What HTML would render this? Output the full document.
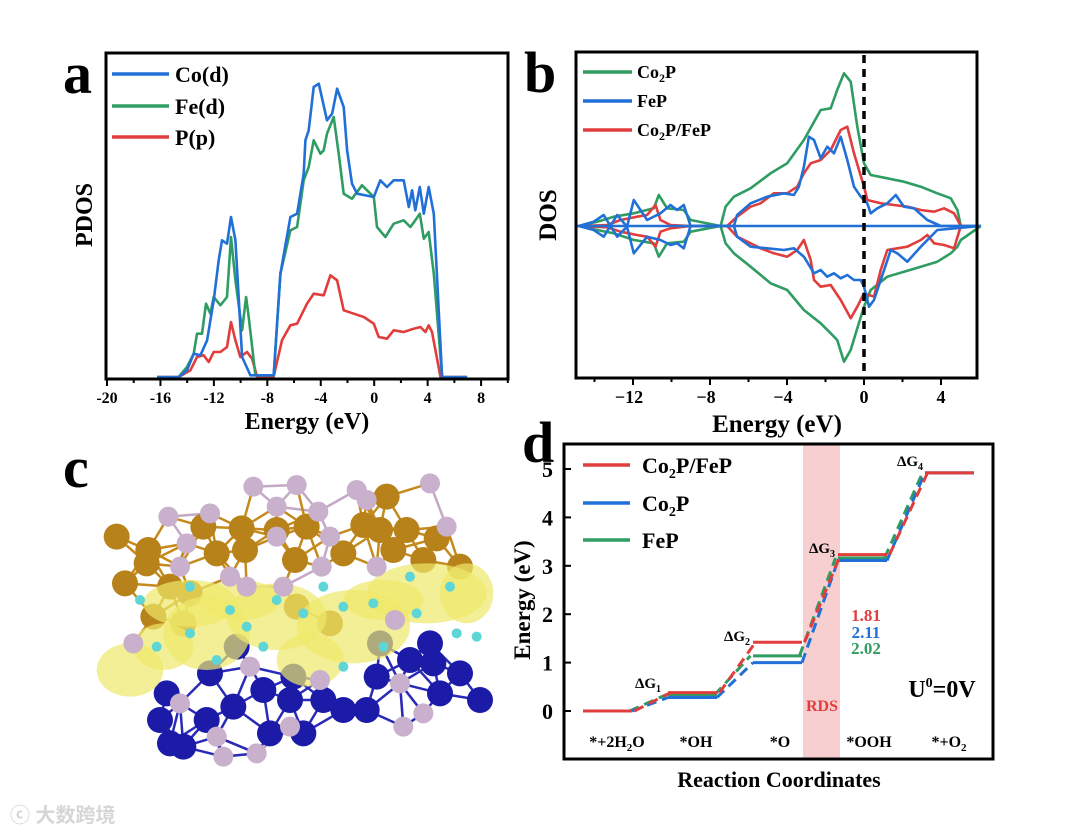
<!DOCTYPE html>
<html><head><meta charset="utf-8">
<style>
html,body{margin:0;padding:0;background:#fff;}
svg{display:block;font-family:"Liberation Serif",serif;font-weight:bold;}
</style></head>
<body>
<svg id="fig" width="1080" height="833" viewBox="0 0 1080 833" xmlns="http://www.w3.org/2000/svg">
<rect width="1080" height="833" fill="#fff"/>
<g id="pa"></g>
<g id="pb"></g>
<g id="pc"></g>
<g id="pd"></g>
<text x="10" y="822" font-family="'Liberation Sans','Noto Sans CJK SC',sans-serif" font-size="20" fill="#d6d6d6">ⓒ 大数跨境</text>
</svg>
<script>
// ---------- Panel a data (PDOS) ----------
const aCoE=[-16.26,-14.63,-14.01,-13.51,-13.01,-12.51,-12.01,-11.64,-11.39,-11.02,-10.72,-10.39,-9.89,-9.27,-7.52,-7.02,-6.27,-5.77,-5.28,-5.15,-4.90,-4.53,-4.15,-3.53,-3.15,-2.78,-2.28,-2.03,-1.66,-1.28,-0.03,0.46,0.96,1.46,2.21,2.59,2.84,3.08,3.41,3.71,4.08,4.46,5.08,6.95];
const aCoV=[0,0,2,7,6.5,11,23,35,41,40,48,41,6,0.5,0.5,31,48,49,61,71,74,87,88,77,79,86.5,81,68,58,55,54,59,57,59,59,51,56,50,57,49,57,49,0,0];
const aFeE=[-14.63,-14.01,-13.51,-13.26,-12.89,-12.59,-12.26,-12.01,-11.51,-11.02,-10.72,-10.39,-9.89,-9.59,-9.39,-8.89,-7.52,-7.02,-6.27,-5.77,-5.28,-4.90,-4.53,-4.03,-3.78,-3.53,-3.03,-2.66,-2.28,-1.66,-0.91,-0.28,-0.03,0.21,0.84,1.46,2.21,2.71,3.08,3.41,3.71,4.08,4.46,5.08];
const aFeV=[0,3,7,13,13,22,19,24,21.5,24,42,29,14,24,18,0.5,0.5,31,44,45,59,63,71,67,68,73,78,67,55,53.5,57.5,55,54,45,42,46,47,45,47,49,41.5,43.5,31,0];
const aPE=[-16.26,-14.63,-13.76,-13.26,-12.76,-12.39,-12.01,-11.51,-11.02,-10.72,-10.39,-10.02,-9.52,-9.14,-8.77,-7.52,-6.90,-6.27,-5.77,-5.03,-4.53,-3.78,-3.28,-2.78,-2.28,-1.53,-0.78,-0.03,0.34,0.96,1.46,2.21,2.96,3.46,3.83,4.08,4.33,4.96,6.95];
const aPV=[0,0,2,6,6.5,4.5,7.5,7.5,9,16.5,11,6,7.5,5.5,0.2,0.2,11,15.5,16,22,25,24.5,30.5,29,20,19,18,16,12,11.5,14,13.5,14.5,15,13.5,15.5,13.5,0,0];
const aTicks=[-20,-16,-12,-8,-4,0,4,8];
// ---------- Panel b data (DOS, spin up / down) ----------
const bGreenE=[-14.82,-13.86,-13.0,-11.96,-10.92,-10.66,-10.23,-9.36,-9.01,-7.45,-7.19,-6.76,-5.89,-4.85,-3.99,-3.12,-2.25,-1.73,-1.39,-1.04,-0.69,-0.35,0,0.35,1.21,2.08,2.95,3.81,4.51,4.85,5.03,6.07];
const bGreenUp=[0,1.3,2.8,3.8,5.3,9.3,5.3,4.8,1.8,0,5.8,8.8,11.3,15.8,18.8,25.8,34.8,35.3,40.8,45.8,43.3,29.8,18.8,15.3,14.3,13.3,11.8,9.8,8.3,4.8,0,0];
const bGreenDn=[0,-1.2,-2.2,-4.2,-5.2,-9.2,-5.2,-4.7,-1.7,0,-5.2,-8.2,-12.2,-17.2,-19.2,-25.2,-29.2,-32.2,-34.2,-40.7,-37.2,-30.7,-24.2,-19.2,-15.2,-13.7,-12.2,-10.7,-8.2,-6.2,-4.2,0];
const bBlueUpE=[-14.82,-14.04,-13.52,-12.82,-12.31,-11.96,-11.27,-10.57,-10.05,-9.71,-9.36,-9.01,-7.45,-6.76,-6.59,-5.89,-5.03,-4.16,-3.64,-3.38,-3.12,-2.86,-2.6,-2.25,-1.91,-1.56,-1.21,-0.87,-0.52,-0.17,0.17,0.35,0.69,1.21,1.65,2.08,2.6,3.29,3.99,6.07];
const bBlueUp=[0,1.3,3.3,-3.2,-0.2,7.8,1.8,3.8,6.3,4.8,6.3,0,0,0,3.3,6.8,8.8,9.8,9.3,11.8,17.8,26.8,25.8,20.3,23.8,21.8,26.8,19.8,11.8,8.8,6.8,3.8,5.3,6.8,9.3,5.8,5.3,1.8,0,0];
const bBlueDnE=[-14.82,-14.04,-13.52,-12.82,-12.31,-11.96,-11.27,-10.57,-10.05,-9.71,-9.36,-9.01,-7.45,-6.76,-6.59,-5.89,-5.03,-4.16,-3.64,-3.12,-2.6,-2.25,-1.91,-1.56,-1.21,-0.87,-0.52,-0.17,0,0.26,0.52,0.87,1.39,1.73,2.25,2.95,3.81,6.07];
const bBlueDn=[0,-1.2,-3.2,3.3,-0.2,-8.2,-3.2,-4.2,-5.7,-5.2,-6.7,0,0,0,-3.2,-6.2,-6.7,-7.2,-6.7,-9.2,-14.2,-13.2,-15.2,-14.2,-15.7,-14.7,-16.2,-16.2,-18.2,-24.2,-22.2,-16.2,-7.2,-8.2,-10.7,-6.2,-1.2,0];
const bRedE=[-14.82,-13.34,-12.65,-11.79,-11.27,-10.83,-10.57,-10.05,-9.01,-7.11,-6.59,-5.89,-5.37,-4.68,-3.99,-3.47,-3.12,-2.77,-2.25,-1.73,-1.21,-0.87,-0.52,0,0.17,0.87,1.56,2.25,2.95,3.64,4.16,4.68,5.03];
const bRedUp=[0,0.3,1.8,2.8,3.3,6.3,1.8,0.3,0,0,2.8,5.8,6.8,9.8,9.8,11.8,15.8,18.8,19.8,22.8,28.8,29.8,21.8,11.8,7.8,6.8,6.3,5.8,4.8,4.3,5.3,3.8,0];
const bRedDnE=[-14.82,-13.34,-12.65,-11.79,-11.27,-10.83,-10.57,-10.05,-9.01,-7.11,-6.59,-5.89,-5.37,-4.68,-3.99,-3.47,-3.12,-2.77,-2.6,-2.25,-1.73,-1.21,-0.69,-0.35,0,0.52,0.87,1.21,2.25,2.95,3.29,3.64,4.16,4.68,5.03];
const bRedDn=[0,-0.4,-1.7,-2.7,-3.2,-6.2,-1.7,-0.7,0,0,-3.2,-5.2,-6.7,-8.2,-9.2,-7.2,-4.2,-10.2,-16.2,-18.2,-17.7,-22.2,-27.7,-24.2,-20.2,-21.2,-13.2,-7.2,-6.2,-4.2,-2.7,-5.2,-5.7,-6.7,0];
const bTicks=[-12,-8,-4,0,4];
// ---------- Panel d data (free energy) ----------
const dSteps=["*+2H2O","*OH","*O","*OOH","*+O2"];
const dCo2PFeP=[0,0.38,1.42,3.23,4.92];
const dCo2P=[0,0.28,1.00,3.11,4.92];
const dFeP=[0,0.33,1.14,3.16,4.92];
const dYTicks=[0,1,2,3,4,5];
const dRDS=["1.81","2.11","2.02"];

const NS="http://www.w3.org/2000/svg";
const C={blue:"#2170d8",green:"#2f9d62",red:"#e23d3d"};
function mk(parent,tag,attrs,txt){const e=document.createElementNS(NS,tag);for(const k in attrs)e.setAttribute(k,attrs[k]);if(txt!==undefined)e.textContent=txt;parent.appendChild(e);return e;}
function pathFrom(xs,ys,fx,fy){return xs.map((x,i)=>(i?"L":"M")+fx(x).toFixed(1)+","+fy(ys[i]).toFixed(1)).join("");}

// ===== Panel a =====
(function(){
const g=document.getElementById('pa');
const X=e=>107+(e+20)*13.36, Y=v=>377-v*10/3;
const L=mk(g,'text',{x:63,y:93,'font-size':58},'a');

const series=[[aPE,aPV,C.red,'p-p-line'],[aFeE,aFeV,C.green,'fe-d-line'],[aCoE,aCoV,C.blue,'co-d-line']];
series.forEach(s=>{const p=mk(g,'path',{d:pathFrom(s[0],s[1],X,Y),fill:'none',stroke:s[2],'stroke-width':2.6,'stroke-linejoin':'round'});
});
const fr=mk(g,'rect',{x:106,y:53,width:402,height:326,fill:'none',stroke:'#000','stroke-width':3});

for(let e=-20;e<=10;e+=2){mk(g,'line',{x1:X(e),x2:X(e),y1:379,y2:e%4===0?386:383,stroke:'#000','stroke-width':2});}
aTicks.forEach(t=>{const tt=mk(g,'text',{x:X(t),y:403,'font-size':16,'text-anchor':'middle'},String(t));
});
const xt=mk(g,'text',{x:307,y:429,'font-size':24,'text-anchor':'middle'},'Energy (eV)');

const yt=mk(g,'text',{x:0,y:0,'font-size':24,'text-anchor':'middle',transform:'translate(92,215) rotate(-90)'},'PDOS');

[['Co(d)',C.blue,74],['Fe(d)',C.green,106],['P(p)',C.red,137]].forEach(l=>{
const le=mk(g,'g',{});
mk(le,'line',{x1:112,x2:169,y1:l[2],y2:l[2],stroke:l[1],'stroke-width':3.5});
mk(le,'text',{x:175,y:l[2]+8,'font-size':22},l[0]);});
})();

// ===== Panel b =====
(function(){
const g=document.getElementById('pb');
const X=e=>864+e*19.25, Y=v=>226-v*10/3;
const L=mk(g,'text',{x:524,y:92,'font-size':58},'b');

const ss=[[bGreenE,bGreenUp,C.green,'co2p-up'],[bGreenE,bGreenDn,C.green,'co2p-down'],[bRedE,bRedUp,C.red,'co2p-fep-up'],[bRedDnE,bRedDn,C.red,'co2p-fep-down'],[bBlueUpE,bBlueUp,C.blue,'fep-up'],[bBlueDnE,bBlueDn,C.blue,'fep-down']];
ss.forEach(s=>{const p=mk(g,'path',{d:pathFrom(s[0],s[1],X,Y),fill:'none',stroke:s[2],'stroke-width':2.6,'stroke-linejoin':'round'});
});
const bl=mk(g,'line',{x1:575,x2:977,y1:226,y2:226,stroke:C.blue,'stroke-width':2.6});

const fl=mk(g,'line',{x1:X(0),x2:X(0),y1:55,y2:376,stroke:'#000','stroke-width':3.5,'stroke-dasharray':'8,6'});

const fr=mk(g,'rect',{x:576,y:52,width:401,height:326,fill:'none',stroke:'#000','stroke-width':3});

for(let e=-14;e<=4;e+=2){mk(g,'line',{x1:X(e),x2:X(e),y1:378,y2:e%4===0?385:382,stroke:'#000','stroke-width':2});}
bTicks.forEach(t=>{const tt=mk(g,'text',{x:X(t)-(t<0?4:0),y:403,'font-size':18,'text-anchor':'middle'},t<0?'\u2212'+(-t):String(t));
});
const xt=mk(g,'text',{x:777,y:432,'font-size':25,'text-anchor':'middle'},'Energy (eV)');

const yt=mk(g,'text',{x:0,y:0,'font-size':25,'text-anchor':'middle',transform:'translate(556,215) rotate(-90)'},'DOS');

[['Co','2','P',C.green,72],['FeP','','',C.blue,101],['Co','2','P/FeP',C.red,130]].forEach(l=>{
const le=mk(g,'g',{});
mk(le,'line',{x1:583,x2:632,y1:l[4],y2:l[4],stroke:l[3],'stroke-width':3.5});
const t=mk(le,'text',{x:637,y:l[4]+6,'font-size':18});
mk(t,'tspan',{},l[0]);if(l[1]){mk(t,'tspan',{'font-size':12,dy:4},l[1]);mk(t,'tspan',{dy:-4},l[2]);}});
})();

// ===== Panel c (structure illustration) =====
(function(){
const g=document.getElementById('pc');
const L=mk(g,'text',{x:63,y:487,'font-size':58},'c');

const T=(x,y)=>[90+x/3,460+y/3];
const blobs=[[350,520,130,110],[560,470,150,100],[790,500,170,110],[1010,400,180,90],[120,630,100,80],[1130,400,80,90],[300,430,140,70],[660,600,100,80],[450,420,120,60],[880,420,120,60],[220,560,90,70]];
const lav=[[235,170],[360,160],[290,250],[270,320],[470,380],[560,140],[490,80],[620,75],[685,155],[800,90],[830,120],[1020,70],[860,320],[695,320],[480,620],[690,660],[930,670],[270,730],[380,830],[400,890],[500,880],[940,800],[1000,760],[130,550],[915,480],[1070,200],[420,350],[720,230],[580,380],[600,800],[560,230]];
const gold=[[80,230],[175,270],[105,370],[340,200],[455,205],[170,310],[300,400],[615,300],[820,195],[890,110],[910,270],[1040,235],[720,490],[1110,320],[190,470],[280,490],[620,440],[950,210],[465,270],[560,210],[650,200],[760,280],[1000,300],[380,280],[240,380],[870,210]];
const blue=[[440,560],[870,550],[1020,550],[230,700],[430,740],[600,720],[860,650],[1050,700],[1170,720],[210,780],[240,850],[540,820],[640,820],[760,750],[830,750],[1030,610],[350,780],[280,860],[610,650],[520,690],[360,640],[700,720],[960,600],[1110,640]];
const bg=mk(g,'g',{});
const all=lav.concat(gold);
for(let i=0;i<all.length;i++)for(let j=i+1;j<all.length;j++){const dx=all[i][0]-all[j][0],dy=all[i][1]-all[j][1];if(dx*dx+dy*dy<140*140){const a=T(...all[i]),b=T(...all[j]);mk(bg,'line',{x1:a[0],y1:a[1],x2:b[0],y2:b[1],stroke:j<lav.length?'#c4a8c4':'#c58a1c','stroke-width':2.5});}}
const bl2=lav.slice(14,23).concat(blue);
for(let i=0;i<bl2.length;i++)for(let j=i+1;j<bl2.length;j++){const dx=bl2[i][0]-bl2[j][0],dy=bl2[i][1]-bl2[j][1];if(dx*dx+dy*dy<140*140){const a=T(...bl2[i]),b=T(...bl2[j]);mk(bg,'line',{x1:a[0],y1:a[1],x2:b[0],y2:b[1],stroke:'#2a2ab8','stroke-width':2.5});}}
blue.forEach(p=>{const c=T(...p);const e=mk(g,'circle',{cx:c[0],cy:c[1],r:13,fill:'#1b1ba8'});
});
gold.forEach(p=>{const c=T(...p);const e=mk(g,'circle',{cx:c[0],cy:c[1],r:13,fill:'#b8821a'});
});
blobs.forEach(b=>{const c=T(b[0],b[1]);const e=mk(g,'ellipse',{cx:c[0],cy:c[1],rx:b[2]/3,ry:b[3]/3,fill:'#eee86a',opacity:0.7});
});
lav.forEach(p=>{const c=T(...p);const e=mk(g,'circle',{cx:c[0],cy:c[1],r:10,fill:'#c9b0cc'});
});
[[300,380],[420,450],[560,420],[700,380],[850,430],[960,350],[200,560],[380,600],[760,620],[1100,520],[520,560],[880,560],[640,460],[470,500],[760,440],[980,460],[300,520],[1160,530],[150,420],[1080,380]].forEach(p=>{const c=T(...p);
const e=mk(g,'circle',{cx:c[0],cy:c[1],r:5,fill:'#5fd6d6'});});
})();

// ===== Panel d =====
(function(){
const g=document.getElementById('pd');
const Y=v=>711-v*48.4;
const lx=[583,668,753,838,925], lw=49;
const L=mk(g,'text',{x:522,y:462,'font-size':58},'d');

const band=mk(g,'rect',{x:803,y:445,width:37,height:314,fill:'#f7cfd0'});

const ser=[[dFeP,C.green,'fep'],[dCo2P,C.blue,'co2p'],[dCo2PFeP,C.red,'co2p-fep']];
ser.forEach((s,si)=>{
 const vals=s[0];
 for(let i=0;i<vals.length;i++){const l=mk(g,'line',{x1:lx[i],x2:lx[i]+lw,y1:Y(vals[i]),y2:Y(vals[i]),stroke:s[1],'stroke-width':3});
 
 if(i<vals.length-1){const off=(si-1)*2.5;const c=mk(g,'line',{x1:lx[i]+lw+off,y1:Y(vals[i]),x2:lx[i+1]+off,y2:Y(vals[i+1]),stroke:s[1],'stroke-width':3,'stroke-dasharray':'10,6'});
 }}
});
const fr=mk(g,'rect',{x:564,y:444,width:429,height:315,fill:'none',stroke:'#000','stroke-width':3});

dYTicks.forEach(t=>{mk(g,'line',{x1:565,x2:571,y1:Y(t),y2:Y(t),stroke:'#000','stroke-width':2});
const tt=mk(g,'text',{x:553,y:Y(t)+8,'font-size':22,'text-anchor':'end'},String(t));
});
const yt=mk(g,'text',{x:0,y:0,'font-size':23,'text-anchor':'middle',transform:'translate(530,600) rotate(-90)'},'Energy (eV)');

const xt=mk(g,'text',{x:779,y:787,'font-size':22,'text-anchor':'middle'},'Reaction Coordinates');

const cx=[617,696,780,869,949];
dSteps.forEach((s,i)=>{const t=mk(g,'text',{x:cx[i],y:747,'font-size':16,'text-anchor':'middle'});

const p=s.lastIndexOf('2');
if(p>2){mk(t,'tspan',{},s.slice(0,p));mk(t,'tspan',{'font-size':11,dy:4},'2');mk(t,'tspan',{dy:-4},s.slice(p+1)||'\u200b');}else t.textContent=s;});
[['1',648,688],['2',737,641],['3',822,553],['4',910,466]].forEach(d=>{const t=mk(g,'text',{x:d[1],y:d[2],'font-size':15,'text-anchor':'middle'});

mk(t,'tspan',{},'ΔG');mk(t,'tspan',{'font-size':10,dy:4},d[0]);});
[[C.red,621],[C.blue,638],[C.green,654]].forEach((c,i)=>{const t=mk(g,'text',{x:866,y:c[1],'font-size':17,'text-anchor':'middle',fill:c[0]},dRDS[i]);
});
const r=mk(g,'text',{x:822,y:711,'font-size':16,'text-anchor':'middle',fill:'#e23d3d'},'RDS');

const u=mk(g,'text',{x:942,y:697,'font-size':24,'text-anchor':'middle'});

mk(u,'tspan',{},'U');mk(u,'tspan',{'font-size':14,dy:-10},'0');mk(u,'tspan',{dy:10},'=0V');
[['Co','2','P/FeP',C.red,465],['Co','2','P',C.blue,503],['FeP','','',C.green,540]].forEach(l=>{
const le=mk(g,'g',{});
mk(le,'line',{x1:583,x2:630,y1:l[4],y2:l[4],stroke:l[3],'stroke-width':3.5});
const t=mk(le,'text',{x:642,y:l[4]+8,'font-size':22});
mk(t,'tspan',{},l[0]);if(l[1]){mk(t,'tspan',{'font-size':14,dy:5},l[1]);mk(t,'tspan',{dy:-5},l[2]);}});
})();
</script>
</body></html>
